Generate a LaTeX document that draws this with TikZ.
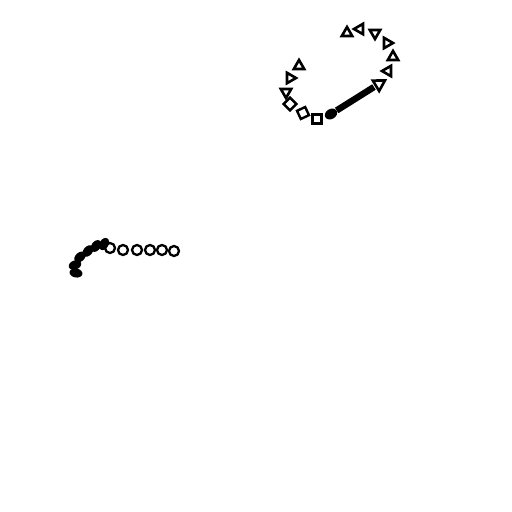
\documentclass[tikz,border=0pt]{standalone}
\usetikzlibrary{shapes.geometric}
\begin{document}
\begin{tikzpicture}[x=1pt,y=-1pt,
  tri/.style={regular polygon,regular polygon sides=3,draw=black,line width=2.6pt,minimum size=12pt,inner sep=0pt},
  sq/.style={rectangle,draw=black,line width=2.4pt,minimum size=9pt,inner sep=0pt},
  circ/.style={circle,draw=black,line width=2.3pt,minimum size=10pt,inner sep=0pt},
  blob/.style={ellipse,fill=black,minimum width=13pt,minimum height=9pt,inner sep=0pt}]
\useasboundingbox (0,0) rectangle (512,512);
% top group
\node[tri,rotate=0] (t1) at (299,66) {};
\node[tri,rotate=-90] (t2) at (290,78) {};
\node[tri,rotate=180] (t3) at (286,92) {};
\node[sq,rotate=45] (s1) at (290,104) {};
\node[sq,rotate=25] (s2) at (303,113) {};
\node[sq] (s3) at (317,119) {};
\node[ellipse,fill=black,minimum width=13pt,minimum height=10pt,inner sep=0pt,rotate=30] (a0) at (331,114) {};
\coordinate (a1) at (374,87);
\draw[line width=6.5pt] (a0) -- (a1);
\node[tri,rotate=-59,minimum size=14pt] (ah) at (379,84) {};
\node[tri,rotate=90] (t4) at (388,71) {};
\node[tri,rotate=0] (t5) at (393,57) {};
\node[tri,rotate=-90] (t6) at (387,43) {};
\node[tri,rotate=180] (t7) at (375,33) {};
\node[tri,rotate=90] (t8) at (360,29) {};
\node[tri,rotate=0] (t9) at (347,33) {};
% bottom group
\node[blob,rotate=-10] (b1) at (76,273) {};
\node[blob,rotate=20] (b2) at (75,265) {};
\node[blob,rotate=40] (b3) at (80,257) {};
\node[blob,rotate=50] (b4) at (88,251) {};
\node[blob,rotate=55] (b5) at (96,246) {};
\node[blob,rotate=60] (b6) at (104,244) {};
\node[circ] (c0) at (110,248) {};
\node[circ] (c1) at (123,250) {};
\node[circ] (c2) at (137,250) {};
\node[circ] (c3) at (150,250) {};
\node[circ] (c4) at (162,250) {};
\node[circ] (c5) at (174,251) {};
\end{tikzpicture}
\end{document}
